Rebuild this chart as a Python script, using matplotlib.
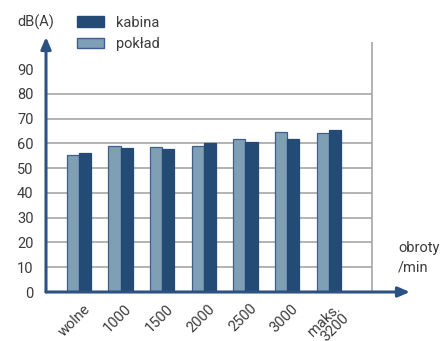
import matplotlib
matplotlib.use("Agg")
import matplotlib.pyplot as plt
import matplotlib.transforms as mtransforms
from matplotlib.patches import Patch
import numpy as np

categories = ["wolne", "1000", "1500", "2000", "2500", "3000", "maks.\n3200"]
kabina = [56.3, 58.2, 57.9, 60.3, 60.6, 61.8, 65.5]
poklad = [55.4, 59.1, 58.6, 59.0, 61.9, 64.5, 64.2]
yticks = [0, 10, 20, 30, 40, 50, 60, 70, 80, 90]

plt.rcParams['font.family'] = ['Roboto', 'DejaVu Sans']
TXT = '#3c3c3c'
DARK = '#244a76'
LIGHT = '#7f9fb4'
EDGE = '#3e6088'
AXC = '#2c5283'
GRID = '#a6a6a6'

W, H = 440, 341
fig = plt.figure(figsize=(W / 100, H / 100), dpi=100)
x0, x1 = 46, 410
y0, y1 = 292, 37
ax = fig.add_axes([x0 / W, (H - y0) / H, (x1 - x0) / W, (y0 - y1) / H])

xmin, xmax = -0.79, 7.95
ymax = 103
ax.set_xlim(xmin, xmax)
ax.set_ylim(0, ymax)

x = np.arange(len(categories))
w = 0.29
right_edge = 7.03
ax.hlines([t for t in yticks if 0 < t <= 80], xmin, right_edge, colors=GRID, lw=1.2, zorder=1)
ax.vlines(right_edge, 0, 101, colors=GRID, lw=1.2, zorder=1)

ax.bar(x - w / 2, poklad, w, color=LIGHT, edgecolor=EDGE, lw=0.9, zorder=2)
ax.bar(x + w / 2, kabina, w, color=DARK, edgecolor=DARK, lw=0.9, zorder=2)

for s in ax.spines.values():
    s.set_visible(False)

ax.annotate('', xy=(0, 1), xytext=(0, 0), xycoords='axes fraction',
            arrowprops=dict(arrowstyle='-|>,head_length=0.7,head_width=0.3', color=AXC, lw=2.2,
                            shrinkA=0, shrinkB=0), zorder=5)
ax.annotate('', xy=(1, 0), xytext=(0, 0), xycoords='axes fraction',
            arrowprops=dict(arrowstyle='-|>,head_length=0.7,head_width=0.3', color=AXC, lw=2.2,
                            shrinkA=0, shrinkB=0), zorder=5)

ax.set_yticks(yticks)
ax.set_yticklabels([str(t) for t in yticks], fontsize=10.5, color=TXT)
ax.tick_params(axis='y', length=0, pad=9)
ax.set_xticks(x)
ax.set_xticklabels(categories, rotation=45, ha='right', va='top', rotation_mode='anchor',
                   fontsize=10.5, color=TXT, linespacing=0.95)
ax.tick_params(axis='x', length=0, pad=4)
off = mtransforms.ScaledTranslation(4 / 100, -4 / 100, fig.dpi_scale_trans)
for lab in ax.get_xticklabels():
    lab.set_transform(lab.get_transform() + off)

fig.text(17 / W, 1 - 22 / H, 'dB(A)', fontsize=10.5, color=TXT, va='center', ha='left')
fig.text(398 / W, 1 - 248 / H, 'obroty', fontsize=10.5, color=TXT, va='center', ha='left')
fig.text(398 / W, 1 - 267 / H, '/min', fontsize=10.5, color=TXT, va='center', ha='left')

handles = [Patch(facecolor=DARK, edgecolor=DARK), Patch(facecolor=LIGHT, edgecolor=EDGE)]
leg = fig.legend(handles, ['kabina', 'pokład'], loc='upper left',
                 bbox_to_anchor=(74 / W, 1 - 13 / H), frameon=False, fontsize=10.5,
                 handlelength=1.85, handleheight=0.75, handletextpad=0.8, labelspacing=0.5,
                 borderpad=0.2, borderaxespad=0)
for t in leg.get_texts():
    t.set_color(TXT)

fig.savefig('out.png', dpi=100)
